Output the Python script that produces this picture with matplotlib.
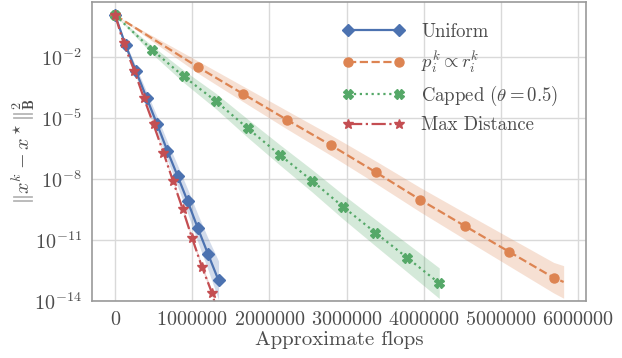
import numpy as np
import matplotlib
matplotlib.use("Agg")
import matplotlib.pyplot as plt
import seaborn as sns

sns.set_style("whitegrid")
plt.rcParams["font.family"] = "serif"
plt.rcParams["font.serif"] = ["cmr10"]
plt.rcParams["mathtext.fontset"] = "cm"
plt.rcParams["axes.formatter.use_mathtext"] = True

# ---- data: approximate flops (x) and log10 of squared error (mean / spread) ----
uniform_flops = [0, 0.134e6, 0.270e6, 0.408e6, 0.545e6, 0.675e6, 0.808e6, 0.940e6, 1.073e6, 1.204e6, 1.340e6]
uniform_log_err = [0.05, -1.42, -2.70, -4.02, -5.32, -6.60, -7.84, -9.10, -10.43, -11.69, -12.98]
uniform_spread = [0.0, 0.12, 0.22, 0.30, 0.38, 0.45, 0.52, 0.60, 0.68, 0.78, 0.95]

resid_flops = [0, 1.070e6, 1.651e6, 2.227e6, 2.802e6, 3.381e6, 3.956e6, 4.530e6, 5.110e6, 5.685e6, 5.815e6]
resid_log_err = [0.05, -2.49, -3.80, -5.09, -6.35, -7.67, -9.02, -10.30, -11.58, -12.85, -13.06]
resid_spread = [0.0, 0.30, 0.38, 0.45, 0.50, 0.55, 0.60, 0.65, 0.70, 0.75, 0.80]

capped_flops = [0, 0.476e6, 0.886e6, 1.306e6, 1.716e6, 2.131e6, 2.551e6, 2.953e6, 3.372e6, 3.783e6, 4.202e6]
capped_log_err = [0.05, -1.64, -2.95, -4.17, -5.50, -6.80, -8.08, -9.36, -10.63, -11.86, -13.12]
capped_spread = [0.0, 0.20, 0.30, 0.38, 0.45, 0.50, 0.55, 0.60, 0.65, 0.70, 0.75]

maxdist_flops = [0, 0.108e6, 0.250e6, 0.372e6, 0.497e6, 0.626e6, 0.748e6, 0.873e6, 0.995e6, 1.125e6, 1.254e6, 1.300e6]
maxdist_log_err = [0.05, -1.31, -2.70, -4.02, -5.32, -6.71, -8.08, -9.45, -10.88, -12.32, -13.59, -14.20]
maxdist_spread = [0.0, 0.03, 0.04, 0.05, 0.06, 0.07, 0.08, 0.09, 0.10, 0.11, 0.12, 0.12]

series = [
    ("Uniform", uniform_flops, uniform_log_err, uniform_spread, "#4C72B0", "-", "D", None),
    (r"$p_i^k \propto r_i^k$", resid_flops, resid_log_err, resid_spread, "#DD8452", "--", "o", 10),
    (r"Capped ($\theta = 0.5$)", capped_flops, capped_log_err, capped_spread, "#55A868", ":", "X", None),
    ("Max Distance", maxdist_flops, maxdist_log_err, maxdist_spread, "#C44E52", "-.", "*", 11),
]

fig = plt.figure(figsize=(6.22, 3.58), dpi=100)
ax = fig.add_axes([0.148, 0.159, 0.7935, 0.836])

for label, x, logy, spread, color, ls, marker, n_marked in series:
    x = np.array(x)
    logy = np.array(logy)
    spread = np.array(spread)
    ax.fill_between(x, 10 ** (logy - spread), 10 ** (logy + spread),
                    color=color, alpha=0.25, linewidth=0)
    mark = list(range(n_marked)) if n_marked else None
    ax.plot(x, 10 ** logy, color=color, linestyle=ls, marker=marker,
            markersize=7 if marker == "*" else 6.5, linewidth=1.6,
            markevery=mark, label=label)

ax.set_yscale("log")
ax.set_ylim(1e-14, 5.15)
ax.set_yticks([1e-2, 1e-5, 1e-8, 1e-11, 1e-14])
ax.yaxis.set_minor_locator(matplotlib.ticker.NullLocator())
ax.set_xlim(-0.3e6, 6.1e6)
ax.set_xticks([0, 1e6, 2e6, 3e6, 4e6, 5e6, 6e6])
ax.ticklabel_format(style="plain", axis="x", useOffset=False)

ax.tick_params(labelsize=14.5, colors="0.3", pad=4)
ax.set_xlabel("Approximate flops", fontsize=15, color="0.3", labelpad=1)
ax.set_ylabel(r"$\|x^k - x^\star\|_{\mathbf{B}}^2$", fontsize=14.5, color="0.3")
ax.yaxis.set_label_coords(-0.111, 0.5)

for spine in ax.spines.values():
    spine.set_color("0.6")
    spine.set_linewidth(1.2)
ax.grid(color="0.85", linewidth=1.0)

leg = ax.legend(loc="upper left", frameon=False, fontsize=13.5, numpoints=2,
                handlelength=3.3, handletextpad=0.9, labelspacing=0.45,
                borderaxespad=0.0, bbox_to_anchor=(0.492, 0.954))
for t in leg.get_texts():
    t.set_color("0.3")

fig.savefig("out.png", dpi=100)
